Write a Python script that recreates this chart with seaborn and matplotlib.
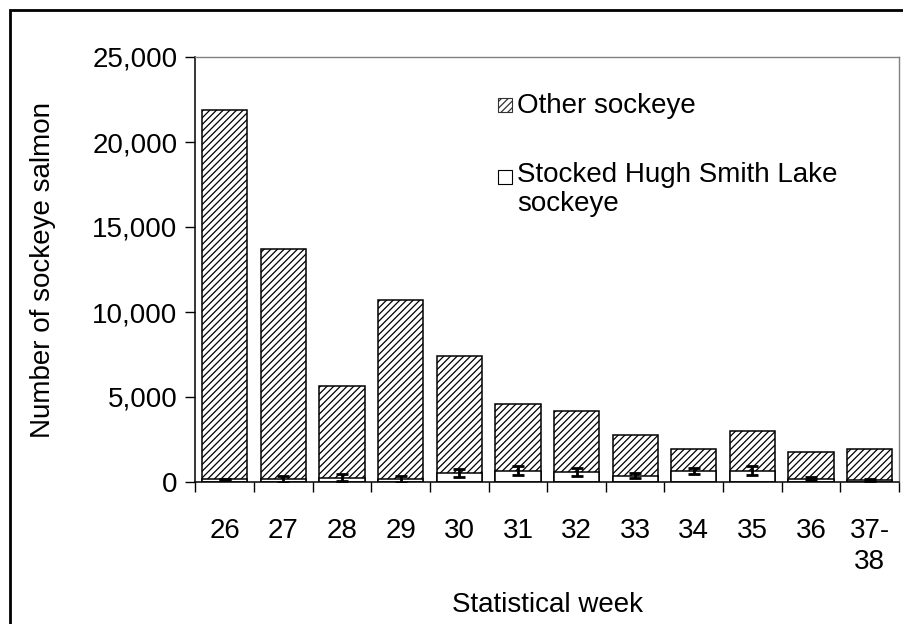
import numpy as np
import pandas as pd
import matplotlib
matplotlib.use("Agg")
import matplotlib.pyplot as plt
from matplotlib.patches import Rectangle
from matplotlib.ticker import StrMethodFormatter, FixedLocator
import seaborn as sns

# Weekly sockeye catch, split into stocked Hugh Smith Lake fish and all others
weeks = ["26", "27", "28", "29", "30", "31", "32", "33", "34", "35", "36", "37-\n38"]
stocked = [160, 160, 255, 160, 510, 670, 570, 375, 670, 670, 200, 110]
other = [21740, 13540, 5395, 10540, 6890, 3930, 3580, 2375, 1250, 2350, 1570, 1810]
stocked_err = [30, 200, 190, 190, 245, 245, 225, 165, 175, 275, 110, 60]

df = pd.DataFrame({
    "week": weeks,
    "stocked": stocked,
    "other": other,
    "err": stocked_err,
})
df["total"] = df["stocked"] + df["other"]

sns.set_theme(style="white")
plt.rcParams["font.family"] = ["Liberation Sans", "DejaVu Sans"]
plt.rcParams["font.size"] = 20
plt.rcParams["text.color"] = "black"
plt.rcParams["axes.labelcolor"] = "black"
plt.rcParams["xtick.color"] = "black"
plt.rcParams["ytick.color"] = "black"
plt.rcParams["hatch.linewidth"] = 0.9
plt.rcParams["hatch.color"] = "black"

W, H = 904, 624
fig = plt.figure(figsize=(W / 100, H / 100), dpi=100)
ax = fig.add_axes([195.5 / W, 1 - 482 / H, (899 - 195.5) / W, (482 - 57) / H])

bar_w = 0.77
# Full stacked height, hatched (upper "other" segment shows above the stocked part)
sns.barplot(data=df, x="week", y="total", color="white", edgecolor="black",
            linewidth=1.1, hatch="/////", width=bar_w, saturation=1, ax=ax,
            errorbar=None, order=weeks)
# Stocked segment at the base
sns.barplot(data=df, x="week", y="stocked", color="white", edgecolor="black",
            linewidth=1.1, width=bar_w, saturation=1, ax=ax,
            errorbar=None, order=weeks)

xpos = np.arange(len(weeks))
ax.errorbar(xpos, df["stocked"], yerr=df["err"], fmt="none", ecolor="black",
            elinewidth=2.0, capsize=4, capthick=2.0, zorder=5)

ax.set_xlim(-0.5, len(weeks) - 0.5)
ax.set_ylim(0, 25000)
ax.set_yticks(np.arange(0, 25001, 5000))
ax.yaxis.set_major_formatter(StrMethodFormatter("{x:,.0f}"))
ax.tick_params(axis="y", which="major", direction="out", length=7, width=1,
               color="black", pad=6, left=True, labelsize=20)
ax.xaxis.set_minor_locator(FixedLocator(np.arange(-0.5, len(weeks), 1)))
ax.tick_params(axis="x", which="minor", direction="out", length=7, width=1,
               color="black", bottom=True)
ax.tick_params(axis="x", which="major", length=0, pad=26, labelsize=20)
ax.set_xticks(xpos)
ax.set_xticklabels(weeks, linespacing=1.25)

ax.set_xlabel("Statistical week", fontsize=20, labelpad=12)
ax.set_ylabel("Number of sockeye salmon", fontsize=20, labelpad=26)

for side in ["left", "bottom"]:
    ax.spines[side].set_color("black")
    ax.spines[side].set_linewidth(1.1)
for side in ["top", "right"]:
    ax.spines[side].set_color("#808080")
    ax.spines[side].set_linewidth(1.0)
    ax.spines[side].set_visible(True)

# Legend drawn as patches with text beside them
def px(x, y):
    return x / W, 1 - y / H

sw = 14 / W
sh = 14 / H
fig.add_artist(Rectangle(px(498, 112), sw, sh, transform=fig.transFigure,
                         facecolor="white", edgecolor="#333333", linewidth=0.8,
                         hatch="/////"))
fig.add_artist(Rectangle(px(498, 184), sw, sh, transform=fig.transFigure,
                         facecolor="white", edgecolor="black", linewidth=0.8))
fig.text(*px(517, 106), "Other sockeye", fontsize=20, va="center", ha="left")
fig.text(*px(517, 162), "Stocked Hugh Smith Lake\nsockeye", fontsize=20,
         va="top", ha="left", linespacing=1.15)

# Chart frame
fig.add_artist(Rectangle(px(10, 700), 1.2, (700 - 10) / H,
                         transform=fig.transFigure, fill=False,
                         edgecolor="black", linewidth=2))

fig.savefig("out.png", dpi=100)
